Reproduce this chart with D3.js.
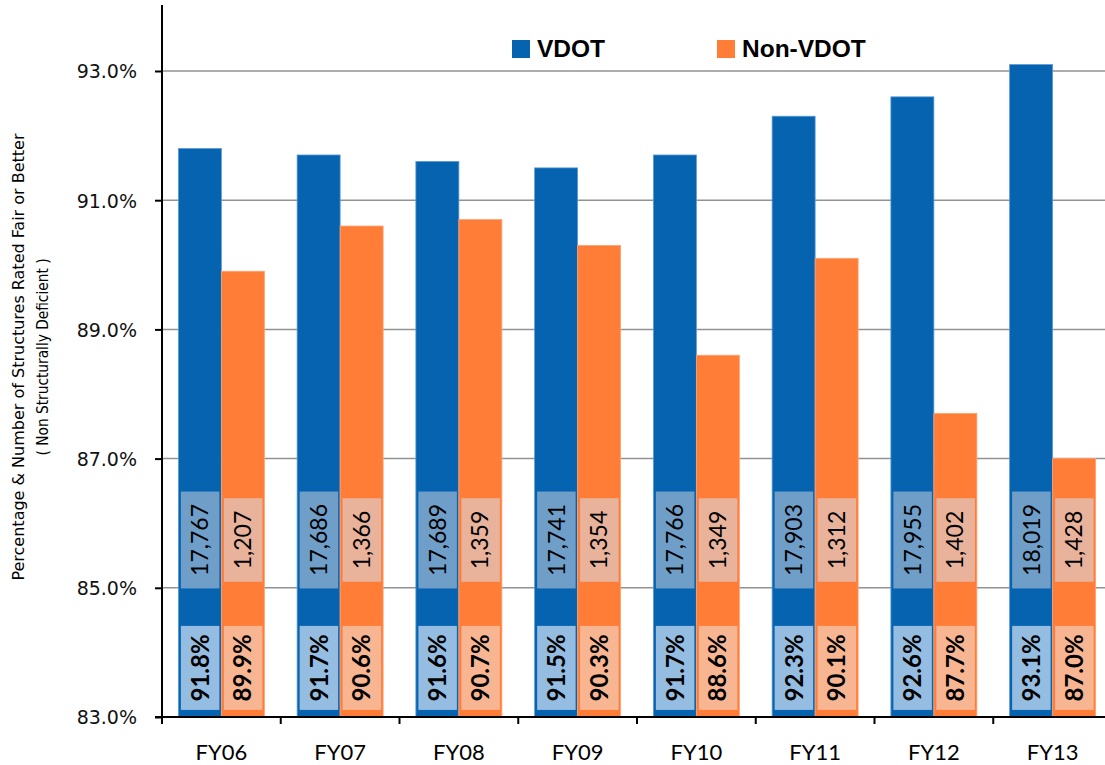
<!DOCTYPE html>
<html><head><meta charset="utf-8">
<script src="https://cdn.jsdelivr.net/npm/d3@7"></script>
<style>body{margin:0;background:#fff}svg{display:block}</style>
</head><body>
<svg id="c" width="1105" height="765"></svg>
<script>
const categories = ['FY06','FY07','FY08','FY09','FY10','FY11','FY12','FY13'];
const seriesNames = ['VDOT','Non-VDOT'];
const vdotPct = [91.8, 91.7, 91.6, 91.5, 91.7, 92.3, 92.6, 93.1];
const nonVdotPct = [89.9, 90.6, 90.7, 90.3, 88.6, 90.1, 87.7, 87.0];
const vdotCount = [17767, 17686, 17689, 17741, 17766, 17903, 17955, 18019];
const nonVdotCount = [1207, 1366, 1359, 1354, 1349, 1312, 1402, 1428];
const yTicks = [83, 85, 87, 89, 91, 93];
const yTitle = ['Percentage & Number of Structures Rated Fair or Better', '( Non Structurally Deficient )'];

const colors = {'VDOT':'#0563B0','Non-VDOT':'#FF7D37'};
const stroke = {'VDOT':'#5C9AD6','Non-VDOT':'#FFA070'};
const pctBox = {'VDOT':'#94BDE1','Non-VDOT':'#F8B592'};
const cntBox = {'VDOT':'#6F9EC8','Non-VDOT':'#E8B29B'};

const svg = d3.select('#c');
const left = 162, bottom = 717, step = 118.75;
const y = d3.scaleLinear().domain([83, 94]).range([bottom, 6.4]);
const x0 = d3.scaleBand().domain(categories).range([left, left + step * categories.length]).padding(0);
const x1 = d3.scaleBand().domain(seriesNames).range([0, x0.bandwidth()]).paddingInner(0).paddingOuter(0.381);

const data = categories.map((c, i) => ({
  cat: c,
  vals: [
    {s:'VDOT', pct: vdotPct[i], cnt: vdotCount[i]},
    {s:'Non-VDOT', pct: nonVdotPct[i], cnt: nonVdotCount[i]}
  ]
}));

// gridlines
svg.append('g').selectAll('line').data(yTicks.slice(1)).join('line')
  .attr('x1', left).attr('x2', 1105)
  .attr('y1', d => y(d)).attr('y2', d => y(d))
  .attr('stroke', '#929292').attr('stroke-width', 1.5);

// bars
const groups = svg.append('g').selectAll('g').data(data).join('g')
  .attr('transform', d => `translate(${x0(d.cat)},0)`);

groups.selectAll('rect.bar').data(d => d.vals).join('rect').attr('class','bar')
  .attr('x', d => x1(d.s)).attr('width', x1.bandwidth())
  .attr('y', d => y(d.pct)).attr('height', d => y(83) - y(d.pct))
  .attr('fill', d => colors[d.s]).attr('stroke', d => stroke[d.s]).attr('stroke-width', 0.8);

const fmtCnt = d3.format(',');
const bw = x1.bandwidth();

// count labels
groups.selectAll('g.cnt').data(d => d.vals).join('g').attr('class','cnt')
  .each(function(d){
    const g = d3.select(this);
    const cx = x1(d.s) + bw/2 + (d.s === 'VDOT' ? 0.5 : 0);
    const cy = y(85.74);
    const t = g.append('text')
      .attr('transform', `translate(${cx + 8},${cy}) rotate(-90)`)
      .attr('text-anchor','middle')
      .attr('font-family','Lato, "Liberation Sans", sans-serif')
      .attr('font-size', 23).attr('fill','#000')
      .text(fmtCnt(d.cnt));
    const len = t.node().getComputedTextLength();
    const h = len + 25;
    g.insert('rect','text')
      .attr('x', x1(d.s) + 2.5).attr('width', bw - 4.5)
      .attr('y', cy - h/2).attr('height', h)
      .attr('fill', cntBox[d.s]);
  });

// percentage labels
groups.selectAll('g.pct').data(d => d.vals).join('g').attr('class','pct')
  .each(function(d){
    const g = d3.select(this);
    const cx = x1(d.s) + bw/2 + (d.s === 'VDOT' ? 0.5 : 0);
    const cy = y(83.76);
    g.append('rect')
      .attr('x', x1(d.s) + 2.5).attr('width', bw - 4.5)
      .attr('y', cy - 42).attr('height', 84)
      .attr('fill', pctBox[d.s]);
    g.append('text')
      .attr('transform', `translate(${cx + 8.5},${cy}) rotate(-90)`)
      .attr('text-anchor','middle')
      .attr('font-family','Lato, "Liberation Sans", sans-serif')
      .attr('font-weight','bold')
      .attr('font-size', 24).attr('fill','#000')
      .text(d.pct.toFixed(1) + '%');
  });

// y axis
const yAxis = svg.append('g').attr('transform', `translate(${left},0)`)
  .call(d3.axisLeft(y).tickValues(yTicks).tickSize(7).tickPadding(18).tickFormat(d => d.toFixed(1) + '%'));
yAxis.select('.domain').remove();
yAxis.selectAll('.tick line').attr('stroke','#000').attr('stroke-width',2);
yAxis.selectAll('.tick text').attr('font-family','"DejaVu Sans", Verdana, sans-serif')
  .attr('font-size', 19).attr('fill','#111').attr('dy','0.36em');
svg.append('line').attr('x1', left).attr('x2', left).attr('y1', 5).attr('y2', bottom + 1)
  .attr('stroke','#000').attr('stroke-width',2);

// x axis
svg.append('line').attr('x1', left - 7).attr('x2', 1105).attr('y1', bottom).attr('y2', bottom)
  .attr('stroke','#000').attr('stroke-width',2);
const bounds = d3.range(categories.length + 1).map(i => x0.range()[0] + i * x0.step());
svg.append('g').selectAll('line').data(bounds).join('line')
  .attr('x1', d => d).attr('x2', d => d).attr('y1', bottom).attr('y2', bottom + 7)
  .attr('stroke','#000').attr('stroke-width',2);
svg.append('g').selectAll('text').data(categories).join('text')
  .attr('x', d => x0(d) + x0.bandwidth()/2).attr('y', 760)
  .attr('text-anchor','middle')
  .attr('font-family','Lato, "Liberation Sans", sans-serif').attr('font-size', 22).attr('fill','#000')
  .text(d => d);

// y title
svg.append('g').selectAll('text').data(yTitle).join('text')
  .attr('transform', (d, i) => `translate(${24 + i * 24},357) rotate(-90)`)
  .attr('text-anchor','middle')
  .attr('font-family','"Liberation Sans Narrow", "DejaVu Sans Condensed", "Liberation Sans", sans-serif')
  .attr('font-size', 16.5).attr('fill','#000')
  .attr('textLength', (d, i) => i === 0 ? 447 : 197).attr('lengthAdjust','spacingAndGlyphs')
  .text(d => d);

// legend
const legendX = [512, 717];
const leg = svg.append('g').selectAll('g').data(seriesNames).join('g')
  .attr('transform', (d, i) => `translate(${legendX[i]},40)`);
leg.append('rect').attr('width', 18).attr('height', 18).attr('fill', d => colors[d]);
leg.append('text').attr('x', 25).attr('y', 17)
  .attr('font-family','"Liberation Sans", Arial, sans-serif').attr('font-weight','bold')
  .attr('font-size', 24.5).attr('fill','#000')
  .text(d => d);
</script>
</body></html>
